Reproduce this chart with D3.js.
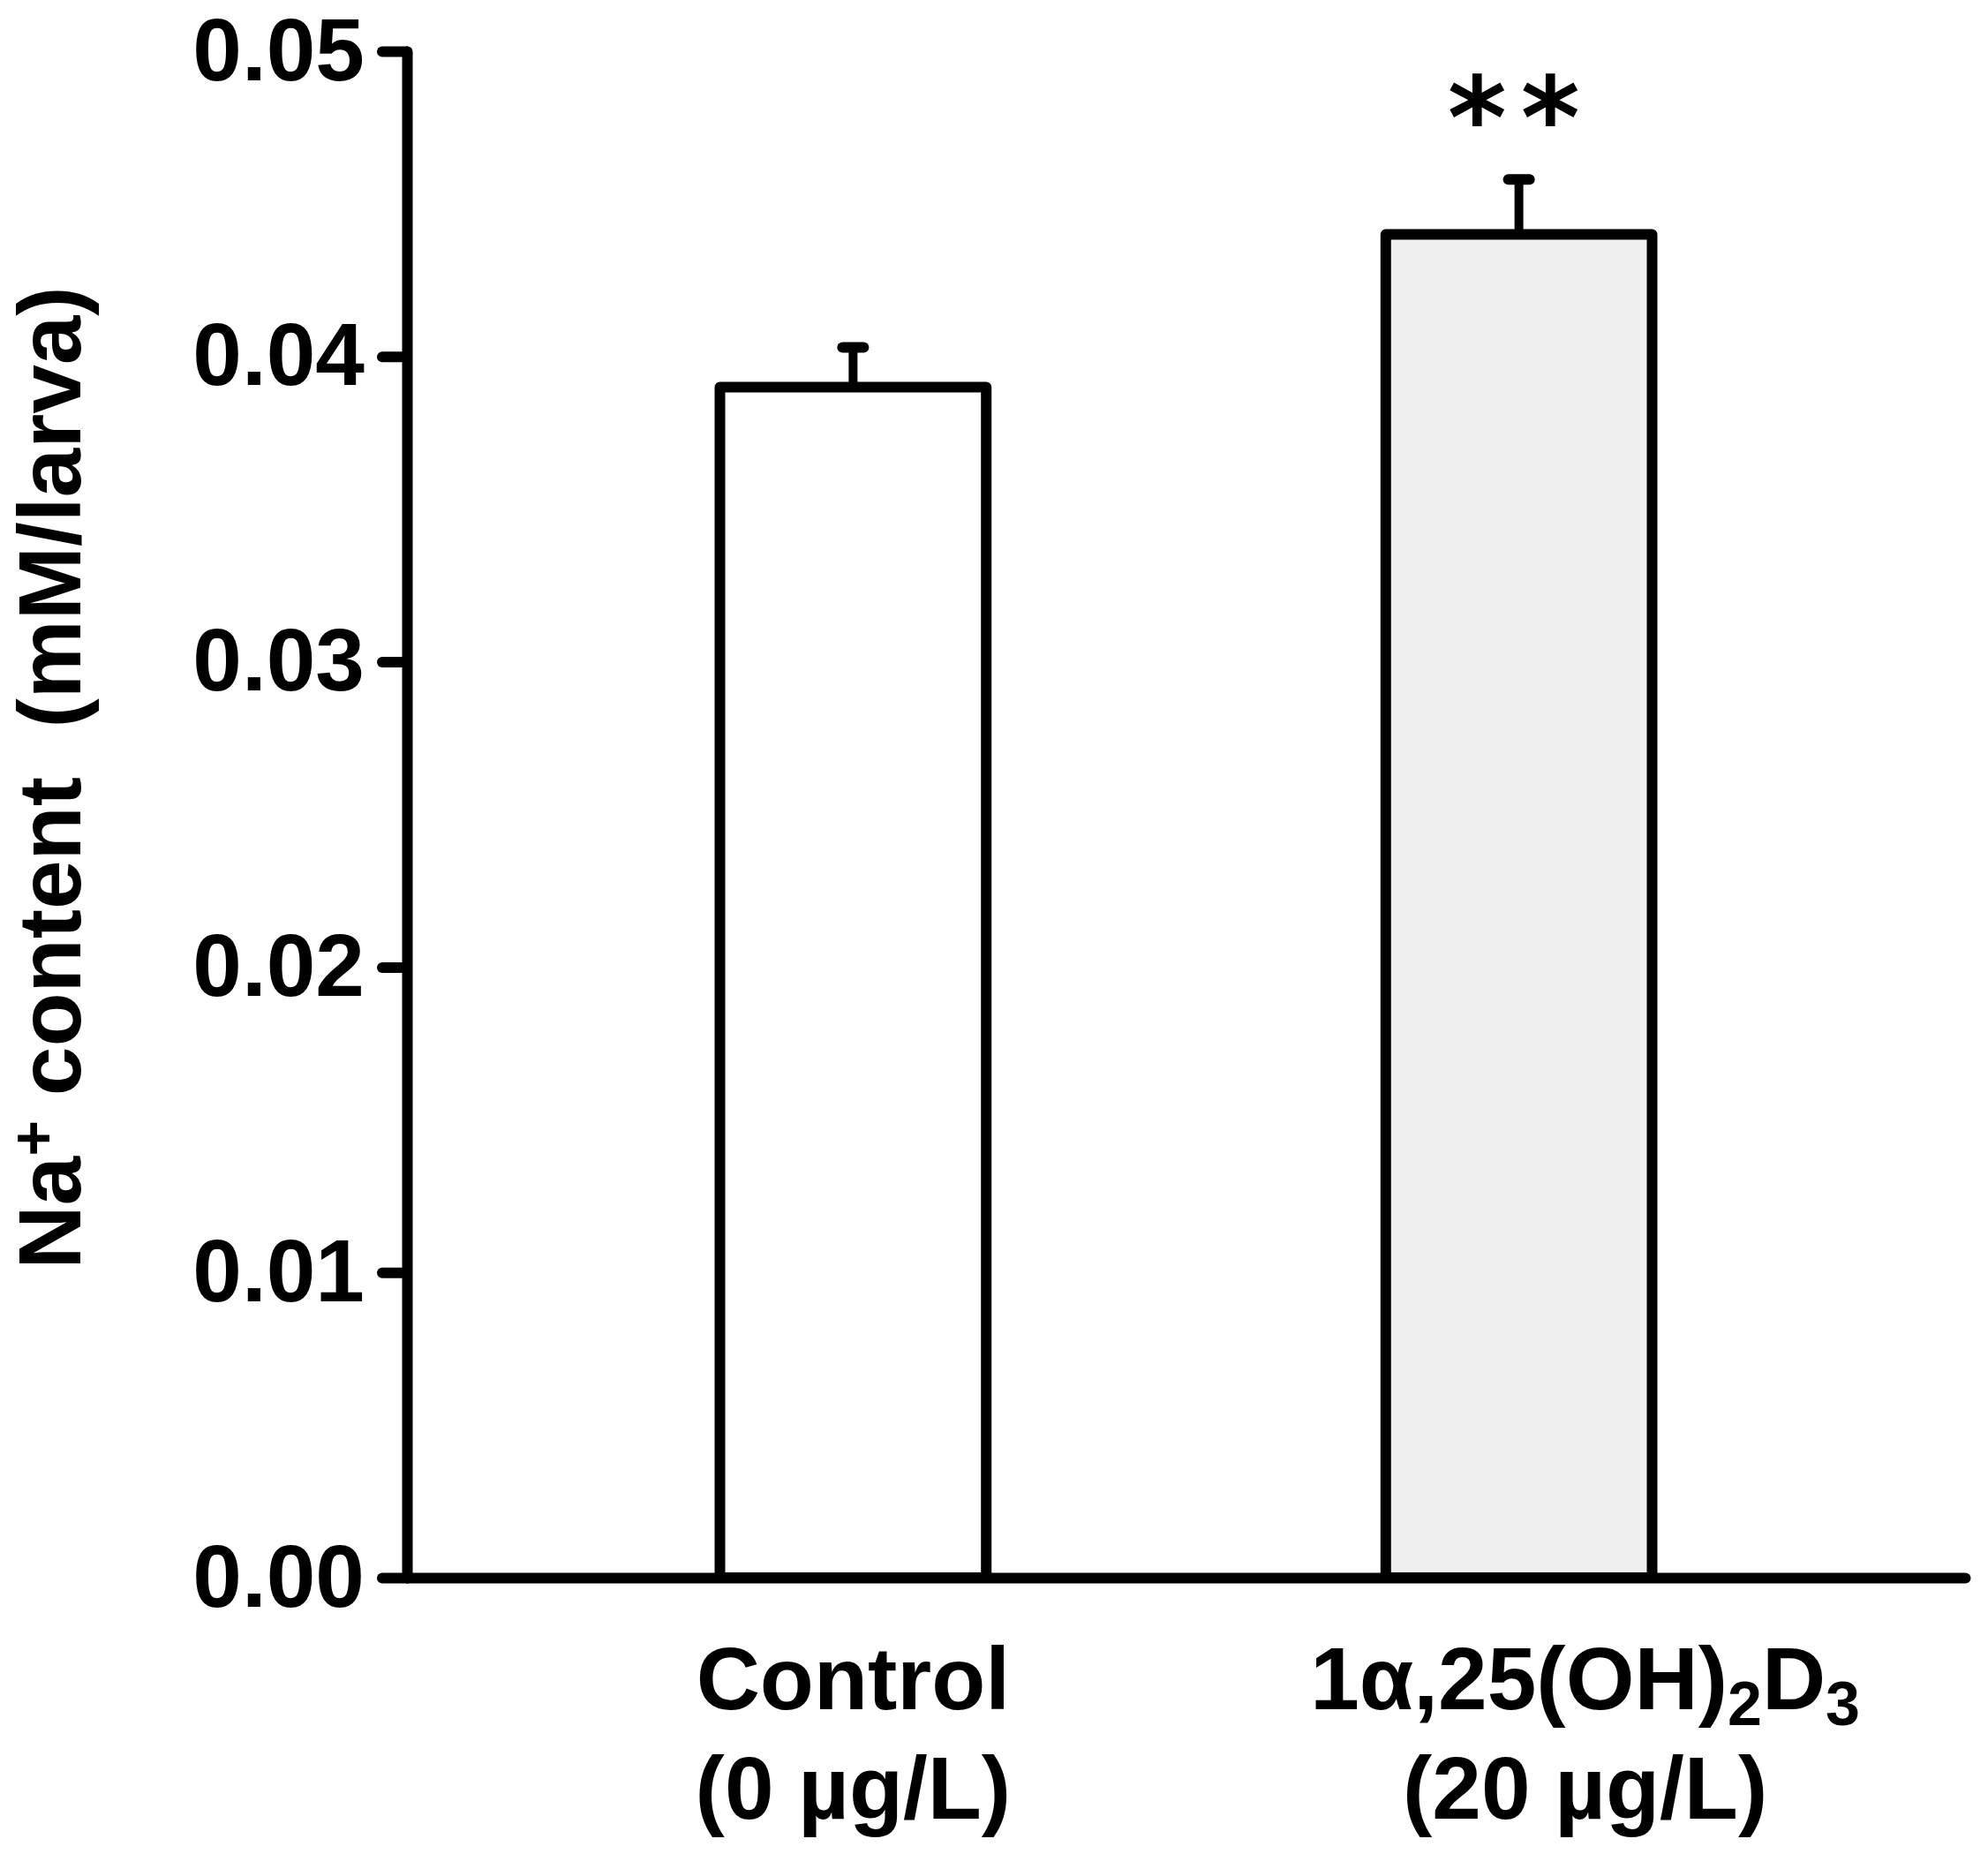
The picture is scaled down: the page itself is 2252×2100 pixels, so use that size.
<!DOCTYPE html>
<html>
<head>
<meta charset="utf-8">
<script src="https://cdn.jsdelivr.net/npm/d3@7"></script>
<style>
  body { margin: 0; background: #fff; }
  text { font-family: "Liberation Sans", Arial, sans-serif; font-weight: bold; fill: #000; }
</style>
</head>
<body>
<div class="canvas"></div>
<script>
// data
const groups = ["Control", "1α,25(OH)_2D_3"];
const doses = ["(0 µg/L)", "(20 µg/L)"];
const means = [0.039, 0.044];
const sems = [0.0013, 0.0018];
const marks = ["", "**"];
const yTicks = [0, 0.01, 0.02, 0.03, 0.04, 0.05];
const fills = ["#ffffff", "#f0f0f0"];

const width = 2252;
const height = 2100;
const margins = { top: 58, right: 2226, bottom: 1787, left: 461 };
const labelDx = [0, 75];

const svg = d3
  .select(".canvas")
  .append("svg")
  .attr("width", width)
  .attr("height", height);

// scales
const x = d3
  .scaleBand()
  .domain(groups)
  .range([margins.left, margins.right])
  .paddingInner(0.6)
  .paddingOuter(0.47);
const y = d3.scaleLinear().domain([0, 0.05]).range([margins.bottom, margins.top]);

const data = groups.map((g, i) => ({
  group: g,
  dose: doses[i],
  mean: means[i],
  sem: sems[i],
  mark: marks[i],
  fill: fills[i],
  i: i,
}));

// bars
svg
  .selectAll("rect.bar")
  .data(data)
  .enter()
  .append("rect")
  .attr("class", "bar")
  .attr("x", (d) => x(d.group))
  .attr("width", x.bandwidth())
  .attr("y", (d) => y(d.mean))
  .attr("height", (d) => y(0) - y(d.mean))
  .attr("fill", (d) => d.fill)
  .attr("stroke", "#000")
  .attr("stroke-width", 12)
  .attr("stroke-linejoin", "round");

// error bars (upper only)
const cx = (d) => x(d.group) + x.bandwidth() / 2;
const err = svg.selectAll("g.err").data(data).enter().append("g").attr("class", "err");
err
  .append("line")
  .attr("x1", cx)
  .attr("x2", cx)
  .attr("y1", (d) => y(d.mean))
  .attr("y2", (d) => y(d.mean + d.sem))
  .attr("stroke", "#000")
  .attr("stroke-width", 10);
err
  .append("line")
  .attr("x1", (d) => cx(d) - 12)
  .attr("x2", (d) => cx(d) + 12)
  .attr("y1", (d) => y(d.mean + d.sem))
  .attr("y2", (d) => y(d.mean + d.sem))
  .attr("stroke", "#000")
  .attr("stroke-width", 12)
  .attr("stroke-linecap", "round");

// significance marks
svg
  .selectAll("text.mark")
  .data(data.filter((d) => d.mark))
  .enter()
  .append("text")
  .attr("class", "mark")
  .attr("x", (d) => cx(d) + 2)
  .attr("y", (d) => y(d.mean + d.sem) - 24)
  .attr("text-anchor", "middle")
  .style("font-family", "'DejaVu Sans', sans-serif")
  .style("font-size", "128px")
  .style("letter-spacing", "16px")
  .text((d) => d.mark);

// axes
const yAxis = d3
  .axisLeft(y)
  .tickValues(yTicks)
  .tickSize(28)
  .tickSizeOuter(0)
  .tickPadding(20)
  .tickFormat(d3.format(".2f"));
const xAxis = d3.axisBottom(x).tickSize(0).tickSizeOuter(0).tickFormat("");

const yAxisGroup = svg.append("g").attr("transform", `translate(${margins.left},0)`).call(yAxis);
const xAxisGroup = svg.append("g").attr("transform", `translate(0,${margins.bottom})`).call(xAxis);
xAxisGroup.selectAll(".tick").remove();

[yAxisGroup, xAxisGroup].forEach((g) => {
  g.selectAll("path.domain, line")
    .attr("stroke", "#000")
    .attr("stroke-width", 12)
    .attr("stroke-linecap", "round");
});
yAxisGroup.selectAll("text").style("font-size", "100px").attr("fill", "#000");

// category labels, "_n" marks a subscript
const labels = svg
  .selectAll("g.lab")
  .data(data)
  .enter()
  .append("g")
  .attr("class", "lab")
  .attr("transform", (d) => `translate(${cx(d) + labelDx[d.i]},0)`);

const line1 = labels
  .append("text")
  .attr("y", 1936)
  .attr("text-anchor", "middle")
  .style("font-size", "100px");
line1.each(function (d) {
  const t = d3.select(this);
  let shift = 0;
  d.group.split(/(_\d)/).forEach((part) => {
    if (!part) return;
    if (part[0] === "_") {
      t.append("tspan").attr("dy", 18 - shift).style("font-size", "70px").text(part.slice(1));
      shift = 18;
    } else {
      t.append("tspan").attr("dy", -shift).text(part);
      shift = 0;
    }
  });
});

labels
  .append("text")
  .attr("y", 2060)
  .attr("text-anchor", "middle")
  .style("font-size", "100px")
  .text((d) => d.dose);

// y axis title
const title = svg
  .append("text")
  .attr("transform", "translate(91,881) rotate(-90)")
  .attr("text-anchor", "middle")
  .style("font-size", "100px")
  .style("white-space", "pre");
title.append("tspan").text("Na");
title.append("tspan").attr("dy", -29).style("font-size", "70px").text("+");
title.append("tspan").attr("dy", 29).text(" content  (mM/larva)");
</script>
</body>
</html>
